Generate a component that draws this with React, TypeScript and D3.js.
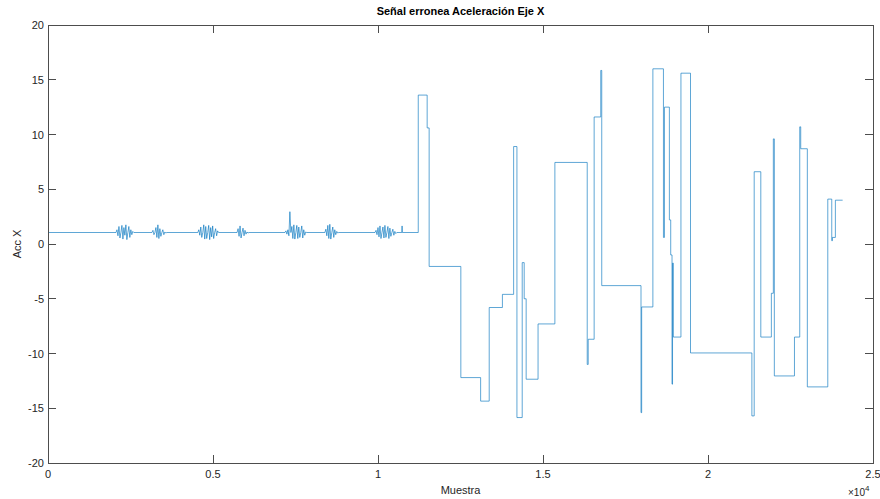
import React from "react";
import * as d3 from "d3";

// Quiet phase: near-constant reading with short vibration bursts
const baseline = 1.05;
const quietEnd = 11220;
const burstSpacing = 30;
const burstStarts = [2060, 3150, 4540, 5730, 7180, 8390, 9910];
const burst1 = [1.05, 1.3, 0.75, 1.6, 0.55, 1.05, 1.7, 0.45, 1.5, 0.8, 1.75, 0.4, 1.05, 1.6, 0.6, 1.3, 0.85, 1.15, 1.05];
const burst2 = [1.05, 1.25, 0.85, 1.05, 1.5, 0.6, 1.75, 0.5, 1.4, 0.7, 1.05, 1.3, 0.85, 1.1, 1.0, 1.05];
const burst3 = [1.05, 1.3, 0.8, 1.55, 0.6, 1.05, 1.75, 0.45, 1.6, 0.5, 1.05, 1.7, 0.4, 1.5, 0.65, 1.65, 0.5, 1.05, 1.4, 0.75, 1.2, 1.05];
const burst4 = [1.05, 1.4, 0.7, 1.65, 0.55, 1.05, 1.45, 0.75, 1.25, 0.9, 1.1, 1.0, 1.05];
const burst5 = [1.05, 1.2, 0.9, 1.3, 0.75, 2.95, 1.05, 1.6, 0.5, 1.75, 0.45, 1.05, 1.7, 0.5, 1.55, 0.6, 1.05, 1.65, 0.55, 1.3, 0.8, 1.1, 1.05];
const burst6 = [1.05, 1.35, 0.75, 1.7, 0.5, 1.8, 0.45, 1.05, 1.55, 0.6, 1.3, 0.85, 1.15, 1.0, 1.05];
const burst7 = [1.05, 1.25, 0.85, 1.5, 0.65, 1.65, 0.5, 1.05, 1.55, 0.55, 1.7, 0.6, 1.05, 1.6, 0.5, 1.45, 0.7, 1.05, 1.35, 0.8, 1.15, 0.95, 1.05];
const bursts = [burst1, burst2, burst3, burst4, burst5, burst6, burst7];
const quietSpikeSamples = [10730];
const quietSpikeValues = [1.65];

// Faulty phase: held (stuck) values, each starting at a sample index
const stepStarts = [
  11220, 11490, 11550, 12510, 13110, 13370, 13770, 14110, 14210, 14370,
  14430, 14490, 14850, 15360, 16340, 16370, 16550, 16750, 16780, 17970,
  17990, 18330, 18650, 18680, 18830, 18870, 18910, 18925, 18950, 19180,
  19470, 21330, 21400, 21600, 21920, 21980, 22010, 22620, 22780, 22810,
  23010, 23630, 23750, 23770, 23860,
];
const stepValues = [
  13.6, 10.6, -2.05, -12.2, -14.35, -5.8, -4.6, 8.9, -15.85, -1.7,
  -5.0, -12.35, -7.3, 7.45, -11.0, -8.7, 11.6, 15.85, -3.8, -15.4,
  -5.75, 16.0, 0.6, 12.5, 2.2, -1.0, -12.8, -1.75, -8.5, 15.6,
  -9.95, -15.7, 6.6, -8.5, -4.5, 9.6, -12.05, -8.5, 10.7, 8.7,
  -13.05, 4.1, 0.3, 0.6, 4.0,
];
const lastSample = 24080;

const xTickValues = [0, 5000, 10000, 15000, 20000, 25000];
const xTickLabels = ["0", "0.5", "1", "1.5", "2", "2.5"];
const yTickValues = [-20, -15, -10, -5, 0, 5, 10, 15, 20];
const yTickLabels = ["-20", "-15", "-10", "-5", "0", "5", "10", "15", "20"];

const W = 880;
const H = 499;
const M = { left: 48, right: 873, top: 25, bottom: 463 };
const FONT = "'Liberation Sans', Arial, Helvetica, sans-serif";
const TEXT = "#262626";
const AXIS = "#4d4d4d";
const LINE = "#0072BD";

function buildSeries(): [number, number][] {
  const pts: [number, number][] = [[0, baseline]];
  const quiet: [number, number][] = [];
  bursts.forEach((vals, b) => {
    vals.forEach((v, i) => quiet.push([burstStarts[b] + i * burstSpacing, v]));
  });
  quietSpikeSamples.forEach((s, i) => {
    quiet.push([s - 10, baseline], [s, quietSpikeValues[i]], [s + 10, baseline]);
  });
  quiet.sort((a, b) => a[0] - b[0]);
  pts.push(...quiet, [quietEnd, baseline]);
  stepStarts.forEach((s, i) => {
    const prev = i === 0 ? baseline : stepValues[i - 1];
    pts.push([s, prev], [s, stepValues[i]]);
  });
  pts.push([lastSample, stepValues[stepValues.length - 1]]);
  return pts;
}

export default function App() {
  const x = d3.scaleLinear().domain([0, 25000]).range([M.left, M.right]);
  const y = d3.scaleLinear().domain([-20, 20]).range([M.bottom, M.top]);
  const series = buildSeries();
  const line = d3
    .line<[number, number]>()
    .x((d) => x(d[0]))
    .y((d) => y(d[1]));
  const tickLen = 8;

  return (
    <svg
      width={W}
      height={H}
      style={{ position: "absolute", left: 0, top: 0, background: "#fff" }}
      fontFamily={FONT}
    >
      <rect x={0} y={0} width={W} height={H} fill="#fff" />
      <path d={line(series) || ""} fill="none" stroke={LINE} strokeWidth={0.9} strokeOpacity={0.7} />

      {/* frame */}
      <rect
        x={M.left}
        y={M.top}
        width={M.right - M.left}
        height={M.bottom - M.top}
        fill="none"
        stroke={AXIS}
        strokeWidth={1}
        shapeRendering="crispEdges"
      />

      {/* x ticks, bottom and top, pointing inward */}
      {xTickValues.map((v, i) => (
        <g key={"x" + i}>
          <line x1={x(v)} x2={x(v)} y1={M.bottom} y2={M.bottom - tickLen} stroke={AXIS} shapeRendering="crispEdges" />
          <line x1={x(v)} x2={x(v)} y1={M.top} y2={M.top + tickLen} stroke={AXIS} shapeRendering="crispEdges" />
          <text x={x(v)} y={M.bottom + 15} textAnchor="middle" fontSize={11} fill={TEXT}>
            {xTickLabels[i]}
          </text>
        </g>
      ))}

      {/* y ticks, left and right, pointing inward */}
      {yTickValues.map((v, i) => (
        <g key={"y" + i}>
          <line x1={M.left} x2={M.left + tickLen} y1={y(v)} y2={y(v)} stroke={AXIS} shapeRendering="crispEdges" />
          <line x1={M.right} x2={M.right - tickLen} y1={y(v)} y2={y(v)} stroke={AXIS} shapeRendering="crispEdges" />
          <text x={M.left - 4} y={y(v) + 4} textAnchor="end" fontSize={11} fill={TEXT}>
            {yTickLabels[i]}
          </text>
        </g>
      ))}

      <text x={(M.left + M.right) / 2} y={15} textAnchor="middle" fontSize={11} fontWeight="bold" fill="#000">
        Señal erronea Aceleración Eje X
      </text>
      <text x={(M.left + M.right) / 2} y={494} textAnchor="middle" fontSize={11} fill={TEXT}>
        Muestra
      </text>
      <text
        transform={`translate(21,${(M.top + M.bottom) / 2}) rotate(-90)`}
        textAnchor="middle"
        fontSize={11}
        fill={TEXT}
      >
        Acc X
      </text>
      <text x={848} y={496} fontSize={10} fill={TEXT}>
        ×10
        <tspan dy={-5} fontSize={8}>4</tspan>
      </text>
    </svg>
  );
}
